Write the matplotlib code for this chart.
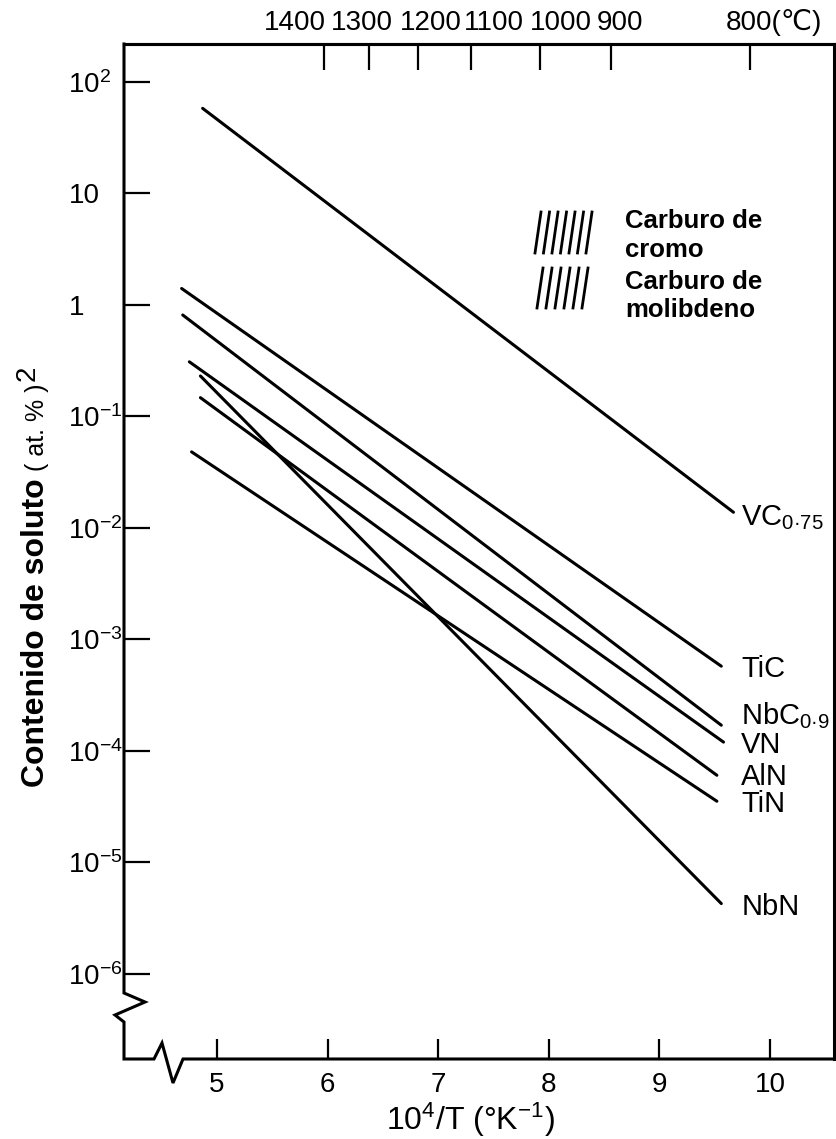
import matplotlib
matplotlib.use('Agg')
import matplotlib.pyplot as plt
from matplotlib import font_manager as fm
from matplotlib.lines import Line2D
from matplotlib.ticker import NullLocator


def first_font(*names):
    for n in names:
        try:
            fm.findfont(fm.FontProperties(family=n), fallback_to_default=False)
            return n
        except ValueError:
            continue
    return 'DejaVu Sans'


SANS = first_font('Liberation Sans Narrow', 'Liberation Sans', 'Arimo', 'DejaVu Sans')
BOLD = first_font('Liberation Sans', 'Arimo', 'DejaVu Sans')

plt.rcParams['font.family'] = [SANS, 'DejaVu Sans']
plt.rcParams['mathtext.fontset'] = 'custom'
plt.rcParams['mathtext.rm'] = SANS
plt.rcParams['mathtext.it'] = SANS
plt.rcParams['mathtext.bf'] = BOLD + ':bold'

# ---- solubility products: straight lines in log(y) vs 10^4/T ----
compounds = ['VC', 'TiC', 'NbC', 'VN', 'AlN', 'TiN', 'NbN']
curve_labels = [r'VC$_{0·75}$', 'TiC', r'NbC$_{0·9}$', 'VN', 'AlN', 'TiN', 'NbN']
inv_T_start = [4.87, 4.68, 4.69, 4.75, 4.85, 4.77, 4.85]
inv_T_end = [9.67, 9.56, 9.56, 9.58, 9.52, 9.52, 9.56]
solute_start = [57.7, 1.40, 0.81, 0.308, 0.147, 0.048, 0.23]
solute_end = [1.38e-2, 5.75e-4, 1.70e-4, 1.20e-4, 6.05e-5, 3.54e-5, 4.28e-6]

# bottom axis (10^4/T) and top axis (temperature in C)
x_ticks = [5, 6, 7, 8, 9, 10]
x_ticklabels = ['5', '6', '7', '8', '9', '10']
top_tick_pos = [5.97, 6.37, 6.82, 7.30, 7.92, 8.56, 9.82]
top_ticklabels = ['1400', '1300', '1200', '1100', '1000', '900', '800(℃)']
# horizontal placement of the temperature labels (10^4/T units, left edge)
top_label_left = [5.425, 6.03, 6.65, 7.23, 7.83, 8.43, 9.60]

y_ticks = [1e2, 1e1, 1e0, 1e-1, 1e-2, 1e-3, 1e-4, 1e-5, 1e-6]
y_ticklabels = [r'$10^{2}$', '10', '1', r'$10^{-1}$', r'$10^{-2}$', r'$10^{-3}$',
                r'$10^{-4}$', r'$10^{-5}$', r'$10^{-6}$']

legend_texts = ['Carburo de\ncromo', 'Carburo de\nmolibdeno']

# ---- figure layout (pixel based helpers) ----
W, H = 837, 1139
fig = plt.figure(figsize=(W / 100, H / 100), dpi=100)


def fx(px):
    return px / W


def fy(py):
    return 1 - py / H


AX_L, AX_R, AX_T, AX_B = 124, 834, 44, 1059
ax = fig.add_axes([fx(AX_L), fy(AX_B), (AX_R - AX_L) / W, (AX_B - AX_T) / H])
ax.set_yscale('log')
ax.set_xlim(4.159, 10.579)
ax.set_ylim(10 ** -6.762, 10 ** 2.338)

LW = 2.2
for xs, xe, ys, ye in zip(inv_T_start, inv_T_end, solute_start, solute_end):
    ax.plot([xs, xe], [ys, ye], color='black', lw=LW, solid_capstyle='round')

# curve names at the right-hand end of each line
label_x = 9.74
label_dy = [-9, -8, 0.5, -7.5, -7, -8, -8]
for lab, ye, dy in zip(curve_labels, solute_end, label_dy):
    ax.annotate(lab, xy=(label_x, ye), xytext=(0, dy), textcoords='offset points',
                ha='left', va='baseline', fontsize=21, color='black')

# ---- axes frame and ticks ----
for side in ('left', 'bottom'):
    ax.spines[side].set_visible(False)
for side in ('top', 'right'):
    ax.spines[side].set_linewidth(LW)

ax.yaxis.set_minor_locator(NullLocator())
ax.set_xticks(x_ticks, x_ticklabels)
ax.set_yticks(y_ticks, y_ticklabels)
ax.tick_params(axis='x', which='major', direction='in', length=14.4, width=1.6,
               pad=9, labelsize=20, top=False)
ax.tick_params(axis='y', which='major', direction='in', length=18.7, width=1.6,
               pad=40, labelsize=20)
for t in ax.get_yticklabels():
    t.set_horizontalalignment('left')

top = ax.secondary_xaxis('top', functions=(lambda v: v, lambda v: v))
top.set_xticks(top_tick_pos, [''] * len(top_tick_pos))
top.tick_params(axis='x', direction='in', length=19, width=1.6)
top.spines['top'].set_linewidth(LW)
top_label_y = 1 + (AX_T - 30) / (AX_B - AX_T)
for lab, xl in zip(top_ticklabels, top_label_left):
    ax.text(xl, top_label_y, lab, transform=ax.get_xaxis_transform(), ha='left',
            va='baseline', fontsize=20, family=[SANS, 'DejaVu Sans'])

# left and bottom axis lines with the break marks
left_frame = [(AX_L, AX_T), (AX_L, 993), (145, 1002), (115, 1015), (AX_L, 1022),
              (AX_L, AX_B), (154, AX_B), (162, 1043), (173, 1083), (183, AX_B),
              (AX_R, AX_B)]
fig.add_artist(Line2D([fx(p[0]) for p in left_frame], [fy(p[1]) for p in left_frame],
                      transform=fig.transFigure, color='black', lw=LW,
                      solid_joinstyle='miter'))


# ---- hatch-style key ----
def hatch(x0, y_bot, y_top, n, step):
    for i in range(n):
        xb = x0 + i * step
        fig.add_artist(Line2D([fx(xb), fx(xb + 6)], [fy(y_bot), fy(y_top)],
                              transform=fig.transFigure, color='black', lw=2.0))


hatch(535, 253, 212, 7, 8.5)
hatch(537, 308, 268, 6, 9.0)
# multi-line text: baseline alignment refers to the last line
fig.text(fx(625), fy(257), legend_texts[0], family=BOLD, weight='bold',
         fontsize=18.5, ha='left', va='baseline', linespacing=1.25)
fig.text(fx(625), fy(317), legend_texts[1], family=BOLD, weight='bold',
         fontsize=18.5, ha='left', va='baseline', linespacing=1.2)

# ---- axis titles ----
fig.text(fx(470), fy(1120), r'$\mathregular{10^{4}/T\ (°K^{-1})}$', ha='center',
         va='center', fontsize=23)

renderer = fig.canvas.get_renderer()
ylabel_parts = [
    ('Contenido de soluto', dict(family=BOLD, weight='bold', fontsize=23), 0, 0),
    ('( at. % )', dict(fontsize=18), 0, 7),
    ('2', dict(fontsize=20), -9, 3),
]
y_cursor = 787
for s, kw, dx, gap in ylabel_parts:
    y_cursor -= gap
    t = fig.text(fx(44 + dx), fy(y_cursor), s, rotation=90, rotation_mode='anchor',
                 ha='left', va='baseline', **kw)
    y_cursor -= t.get_window_extent(renderer).height

fig.savefig('out.png', dpi=100)
